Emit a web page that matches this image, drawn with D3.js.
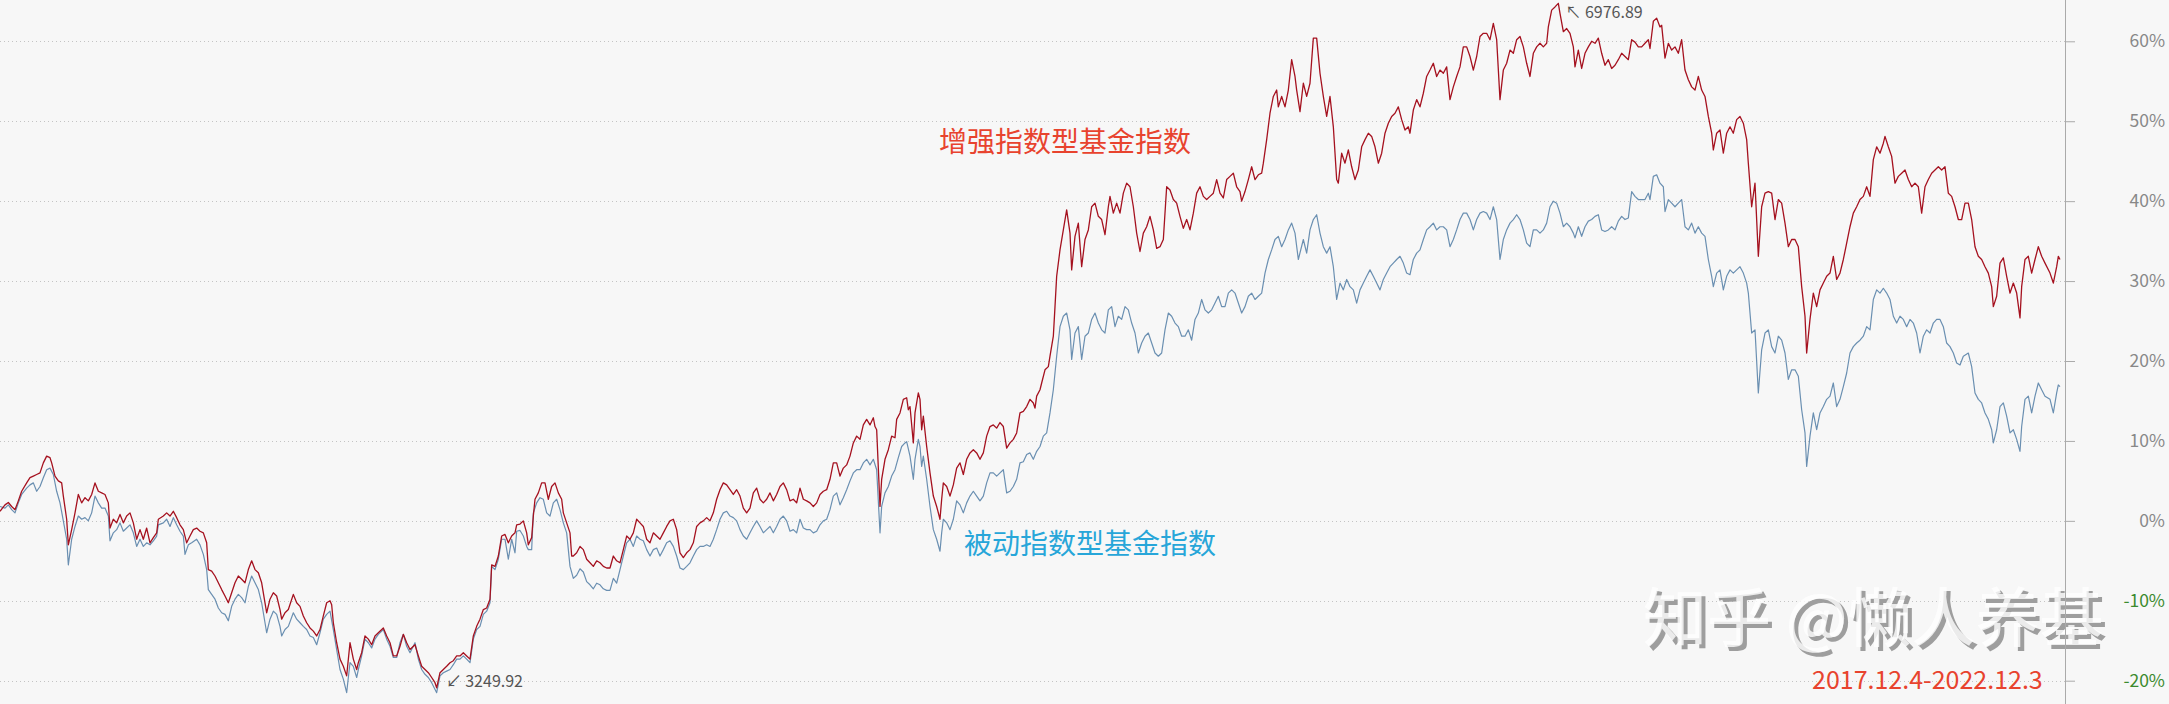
<!DOCTYPE html>
<html><head><meta charset="utf-8">
<script src="https://cdn.jsdelivr.net/npm/d3@7"></script>
<style>html,body{margin:0;padding:0;background:#f7f7f7;overflow:hidden}</style>
</head><body><svg id="chart" width="2169" height="704"></svg>
<script>
// time index (approx. trading days since 2017-12-04), cumulative return in %
const enhanced = [[0,1.2],[3,2.0],[5,2.3],[7,1.8],[9,1.4],[11,2.5],[13,3.7],[16,4.75],[18,5.4],[20,5.6],[22,5.8],[24,6.0],[26,7.25],[28,8.1],[30,7.9],[31,7.25],[33,5.6],[35,5.0],[37,4.75],[38,3.1],[40,0.2],[41,-3.0],[43,-1.1],[45,1.0],[47,3.3],[49,2.25],[51,2.9],[53,2.5],[55,3.3],[57,4.75],[59,3.7],[61,3.5],[63,3.3],[65,2.25],[66,-0.9],[68,0.2],[70,-0.25],[72,0.8],[74,-0.25],[76,0.6],[78,1.0],[80,-0.25],[82,-2.3],[84,-1.1],[86,-2.3],[88,-0.9],[90,-2.75],[92,-2.1],[94,-1.5],[95,0.2],[98,0.6],[100,1.0],[102,0.6],[104,1.2],[106,0.4],[108,-0.5],[110,-1.1],[112,-2.75],[114,-1.9],[116,-1.1],[118,-0.9],[120,-1.3],[122,-1.5],[124,-2.75],[125,-6.1],[127,-6.3],[129,-6.9],[131,-7.75],[133,-8.6],[135,-9.4],[137,-10.25],[139,-9.0],[141,-7.75],[143,-6.9],[145,-7.3],[147,-7.75],[149,-6.1],[151,-5.0],[153,-6.1],[155,-6.5],[157,-7.75],[159,-10.25],[160,-11.5],[162,-9.8],[164,-9.0],[166,-9.4],[168,-11.1],[169,-12.3],[171,-11.5],[173,-11.1],[176,-9.2],[178,-10.25],[180,-10.7],[182,-11.9],[184,-12.75],[186,-13.4],[188,-13.8],[190,-14.4],[192,-13.6],[194,-11.9],[196,-10.25],[198,-10.0],[199,-10.5],[200,-12.75],[202,-15.25],[204,-17.3],[206,-18.2],[208,-19.4],[210,-15.25],[212,-17.3],[214,-18.6],[215,-17.75],[217,-16.5],[219,-14.4],[221,-14.8],[223,-15.5],[225,-14.4],[227,-14.0],[230,-13.4],[232,-14.4],[234,-15.25],[236,-16.9],[238,-16.9],[240,-15.7],[242,-14.2],[244,-15.25],[246,-16.1],[249,-15.5],[251,-16.9],[253,-18.2],[255,-18.6],[257,-19.0],[259,-19.6],[261,-20.25],[262,-20.9],[264,-19.0],[266,-18.6],[268,-18.2],[270,-17.75],[272,-17.5],[274,-16.9],[276,-16.9],[278,-16.5],[280,-16.9],[282,-17.3],[284,-14.4],[286,-13.2],[288,-12.3],[290,-11.1],[292,-10.9],[294,-9.8],[295,-5.5],[297,-5.7],[299,-4.4],[301,-1.9],[303,-1.7],[305,-2.75],[307,-1.9],[309,-1.5],[310,-0.5],[312,-0.4],[314,0],[316,-1.5],[317,-3.0],[319,-2.1],[320,0.6],[321,2.7],[323,3.5],[325,4.75],[327,4.75],[329,2.7],[331,4.3],[333,4.75],[335,3.5],[337,2.7],[338,1.0],[340,-0.25],[342,-1.5],[343,-4.4],[344,-4.4],[346,-4.0],[348,-3.2],[350,-3.6],[352,-4.8],[354,-5.25],[356,-5.7],[358,-5.0],[360,-5.25],[362,-5.7],[364,-5.9],[366,-5.9],[368,-4.4],[370,-5.0],[372,-5.25],[374,-3.6],[376,-1.9],[378,-2.3],[380,-1.5],[382,0.2],[384,-0.25],[386,-0.7],[388,-2.3],[390,-2.75],[392,-1.5],[394,-1.9],[396,-2.3],[398,-1.5],[400,-0.7],[402,0],[404,0.2],[406,-1.1],[408,-4.0],[410,-4.6],[412,-4.0],[414,-3.6],[416,-2.75],[418,-0.7],[420,-0.25],[422,0],[424,0.4],[426,0],[428,1.0],[430,2.7],[432,3.9],[434,4.75],[436,4.5],[438,3.9],[440,3.3],[442,3.9],[444,3.1],[446,1.6],[448,1.0],[450,1.6],[452,3.5],[454,4.1],[456,2.7],[458,2.25],[460,2.7],[462,3.5],[464,2.5],[466,3.3],[468,4.3],[470,4.75],[472,3.9],[474,2.5],[476,2.7],[478,2.25],[480,4.1],[482,2.7],[484,2.5],[486,2.25],[488,1.8],[490,2.25],[492,3.3],[494,3.7],[496,3.9],[498,5.2],[500,7.25],[502,7.25],[504,5.6],[506,6.6],[508,7.0],[510,8.1],[512,9.75],[514,10.6],[516,10.2],[518,12.0],[520,12.7],[522,12.0],[524,12.9],[525,11.8],[526,11.4],[528,1.8],[529,5.2],[531,7.7],[533,8.9],[535,10.6],[537,10.4],[538,12.7],[540,13.5],[542,15.2],[544,15.4],[545,13.9],[546,14.3],[548,9.75],[549,13.5],[551,16.0],[552,15.2],[553,11.4],[554,13.1],[556,9.3],[558,6.0],[560,3.1],[562,1.8],[564,0.2],[565,2.7],[566,4.75],[568,4.3],[570,3.1],[572,4.5],[574,6.6],[576,7.25],[578,5.8],[580,7.7],[582,8.5],[584,8.9],[586,8.5],[588,7.7],[590,8.5],[592,10.6],[594,11.8],[596,12.0],[598,11.6],[600,12.3],[602,11.8],[604,9.1],[606,9.75],[608,10.2],[610,11.0],[612,13.5],[614,13.7],[616,14.3],[618,15.2],[620,14.75],[621,14.1],[622,15.6],[624,16.4],[625,17.25],[627,18.9],[629,19.3],[630,20.6],[632,23.1],[633,26.8],[634,30.6],[636,33.9],[638,36.4],[640,38.9],[642,36.0],[643,31.4],[645,35.6],[647,37.25],[649,31.8],[651,35.2],[653,36.4],[655,39.3],[657,39.75],[659,38.1],[661,37.7],[663,35.8],[665,39.3],[666,40.6],[668,38.5],[670,39.75],[672,38.5],[674,41.0],[676,42.25],[678,41.8],[680,39.3],[682,36.0],[684,33.7],[686,36.0],[688,36.8],[690,38.1],[692,36.4],[694,34.1],[696,34.3],[698,35.2],[700,41.8],[702,41.4],[704,40.2],[706,39.75],[708,38.1],[710,36.6],[712,37.7],[714,36.4],[716,38.5],[718,41.0],[720,41.8],[722,40.6],[724,40.2],[726,40.6],[728,41.0],[730,42.7],[732,41.0],[734,40.4],[736,42.7],[738,43.1],[740,43.5],[742,41.8],[744,41.2],[745,40.0],[747,41.2],[749,42.7],[751,44.3],[753,42.7],[755,43.3],[757,43.5],[758,44.75],[760,47.7],[762,51.0],[764,53.1],[766,53.9],[767,51.8],[769,53.1],[771,51.8],[773,53.9],[775,57.7],[777,55.6],[778,53.9],[780,51.2],[782,54.75],[784,53.1],[786,54.75],[788,60.4],[790,60.4],[792,56.0],[794,53.1],[796,50.6],[798,53.1],[800,49.3],[802,42.7],[803,42.25],[805,46.0],[807,44.75],[809,46.4],[811,44.3],[813,42.7],[815,43.9],[817,46.8],[819,47.7],[821,48.5],[823,48.1],[825,46.8],[827,44.75],[829,46.0],[831,48.5],[833,49.75],[835,50.6],[837,51.0],[839,51.8],[841,50.2],[843,48.9],[845,49.3],[846,48.5],[848,51.4],[850,52.7],[852,51.8],[854,53.5],[856,55.6],[858,56.4],[860,57.25],[862,55.6],[864,56.4],[866,56.0],[868,56.8],[870,52.7],[872,54.3],[874,55.6],[876,56.8],[878,59.3],[880,59.3],[882,58.1],[884,56.4],[886,58.1],[888,60.6],[890,61.0],[892,61.0],[894,60.2],[896,62.25],[898,60.2],[900,52.7],[902,56.4],[904,57.25],[906,58.9],[908,58.5],[910,60.2],[912,60.6],[914,59.3],[916,57.25],[918,55.6],[920,58.5],[922,59.3],[924,59.75],[926,59.3],[928,59.75],[929,61.8],[931,63.9],[933,64.3],[935,64.75],[936,63.5],[938,61.2],[940,61.6],[942,61.0],[944,59.3],[945,56.8],[947,58.9],[949,56.6],[951,58.5],[953,59.3],[955,60.0],[957,59.75],[959,60.4],[961,58.5],[963,57.0],[965,57.7],[967,56.6],[969,57.0],[971,57.7],[973,58.5],[975,58.1],[977,57.7],[979,60.2],[981,59.9],[983,59.3],[985,59.3],[987,59.75],[989,60.2],[990,59.1],[992,62.5],[994,62.9],[996,61.8],[997,62.0],[999,57.9],[1001,59.75],[1003,58.9],[1005,59.3],[1007,58.5],[1009,60.2],[1011,56.4],[1013,55.2],[1015,54.3],[1017,53.9],[1019,55.6],[1021,53.9],[1023,53.1],[1025,50.6],[1027,48.5],[1028,46.4],[1030,48.5],[1032,48.9],[1034,46.0],[1036,48.5],[1038,49.3],[1040,48.5],[1042,50.2],[1044,50.6],[1046,49.75],[1048,47.7],[1049,44.75],[1051,39.3],[1053,42.25],[1055,33.1],[1057,39.3],[1059,41.0],[1061,41.2],[1063,41.0],[1065,37.7],[1067,40.2],[1069,39.75],[1071,37.25],[1073,34.3],[1075,35.2],[1077,35.2],[1079,34.3],[1081,29.3],[1083,25.6],[1084,21.0],[1086,25.2],[1088,28.5],[1090,26.8],[1092,28.9],[1094,29.75],[1096,30.6],[1098,31.0],[1100,33.1],[1102,30.2],[1104,31.0],[1106,32.7],[1108,34.75],[1110,36.8],[1112,38.5],[1114,39.3],[1116,40.2],[1118,40.6],[1120,41.8],[1122,40.6],[1124,45.2],[1126,46.8],[1128,46.0],[1130,47.25],[1131,48.1],[1133,46.8],[1135,45.6],[1137,42.25],[1139,43.1],[1141,43.5],[1143,43.9],[1145,42.7],[1147,41.8],[1149,42.25],[1151,41.8],[1153,38.5],[1155,41.8],[1157,42.7],[1159,43.5],[1161,43.9],[1163,44.3],[1165,43.9],[1167,44.3],[1169,41.0],[1171,40.6],[1173,39.3],[1175,37.7],[1177,37.7],[1179,39.75],[1181,39.75],[1183,37.7],[1185,34.3],[1187,33.1],[1189,32.7],[1191,31.8],[1193,31.0],[1195,29.3],[1196,26.8],[1198,28.1],[1200,32.25],[1202,32.9],[1204,30.6],[1206,28.5],[1208,29.75],[1210,28.5],[1212,25.4],[1213,29.3],[1215,32.7],[1217,33.1],[1219,31.0],[1221,32.7],[1223,34.3],[1225,33.1],[1227,32.25],[1230,31.0],[1232,29.75],[1234,31.8],[1235,33.1],[1236,32.7]];

const passive = [[0,1.8],[3,1.6],[5,2.0],[7,1.4],[9,1.0],[11,2.25],[13,3.3],[16,4.1],[18,4.5],[20,4.75],[22,3.7],[24,4.3],[26,5.4],[28,6.4],[30,6.6],[32,5.8],[34,3.7],[36,2.25],[38,0],[40,-2.3],[41,-5.5],[43,-2.3],[45,-0.7],[47,0.6],[49,0.2],[51,0.4],[53,0],[55,1.0],[57,3.1],[59,2.25],[61,1.6],[63,1.6],[65,0.6],[66,-2.5],[68,-1.5],[70,-1.1],[72,-0.25],[74,-1.3],[76,-0.9],[78,-0.5],[80,-1.5],[82,-3.2],[84,-2.3],[86,-3.2],[88,-2.75],[90,-3.0],[92,-2.5],[94,-1.9],[95,-0.5],[98,-0.25],[100,0.2],[102,-0.7],[104,0.4],[106,-0.5],[108,-1.3],[110,-1.9],[111,-4.2],[113,-3.0],[115,-2.75],[118,-2.3],[120,-3.0],[122,-4.2],[124,-6.1],[125,-8.6],[127,-9.2],[129,-9.8],[131,-10.9],[133,-11.5],[135,-11.7],[137,-12.5],[139,-10.7],[141,-9.8],[143,-9.2],[145,-9.6],[147,-10.25],[149,-8.2],[151,-6.9],[153,-7.75],[155,-8.6],[157,-10.25],[159,-12.75],[160,-14.0],[162,-12.3],[164,-11.3],[166,-11.7],[168,-13.2],[169,-14.4],[171,-13.6],[173,-13.2],[176,-11.5],[178,-12.3],[180,-12.75],[182,-13.2],[184,-13.6],[186,-14.4],[188,-14.6],[190,-15.5],[192,-14.0],[194,-12.3],[196,-11.7],[198,-11.3],[200,-13.6],[202,-16.1],[204,-18.6],[206,-19.8],[208,-21.5],[210,-17.75],[212,-18.2],[214,-19.6],[215,-18.6],[217,-16.9],[219,-14.8],[221,-15.25],[223,-15.9],[225,-14.8],[227,-14.2],[230,-13.6],[232,-14.8],[234,-15.7],[236,-17.1],[238,-17.1],[240,-15.25],[242,-14.2],[244,-15.7],[246,-16.5],[249,-15.25],[251,-17.3],[253,-18.6],[255,-19.2],[257,-19.6],[259,-20.25],[262,-21.5],[264,-19.4],[266,-19.0],[268,-18.8],[270,-18.6],[272,-18.0],[274,-17.3],[276,-17.3],[278,-16.9],[280,-17.3],[282,-17.75],[284,-14.8],[286,-13.6],[288,-13.2],[290,-11.7],[292,-11.3],[294,-10.25],[295,-5.7],[297,-6.1],[299,-4.8],[301,-2.3],[303,-2.3],[305,-4.8],[307,-2.3],[309,-4.0],[310,-1.3],[312,-1.2],[314,-1.9],[316,-3.2],[317,-3.6],[319,-3.6],[320,1.0],[322,2.25],[324,2.9],[326,2.7],[328,1.0],[330,0.6],[332,2.25],[334,2.7],[336,1.4],[338,-0.25],[340,-1.5],[342,-5.7],[344,-7.2],[346,-6.8],[348,-6.0],[350,-6.4],[352,-7.6],[354,-8.0],[356,-8.5],[358,-7.8],[360,-8.0],[362,-8.5],[364,-8.7],[366,-8.7],[368,-7.2],[370,-7.8],[372,-6.1],[374,-4.4],[376,-2.75],[378,-2.3],[380,-3.2],[382,-1.9],[384,-2.3],[386,-2.5],[388,-3.6],[390,-4.4],[392,-3.6],[394,-3.4],[396,-4.4],[398,-3.6],[400,-2.75],[402,-2.5],[404,-3.2],[406,-4.4],[408,-5.9],[410,-6.1],[412,-5.7],[414,-5.25],[416,-4.4],[418,-3.6],[420,-3.2],[422,-3.2],[424,-3.0],[426,-3.2],[428,-2.3],[430,-1.1],[432,0.2],[434,1.0],[436,1.2],[438,0.6],[440,0.4],[442,0],[444,-1.1],[446,-1.9],[448,-2.3],[450,-1.5],[452,-0.7],[454,0],[456,-0.7],[458,-1.5],[460,-1.1],[462,-0.7],[464,-1.5],[466,-0.7],[468,0.2],[470,0.6],[472,0],[474,-1.3],[476,-1.1],[478,-1.5],[480,0.2],[482,-0.9],[484,-1.1],[486,-1.1],[488,-1.5],[490,-1.3],[492,-0.5],[494,0],[496,0.2],[498,1.4],[500,3.1],[502,3.5],[504,2.0],[506,2.9],[508,3.9],[510,5.0],[512,6.0],[514,6.4],[516,6.4],[518,7.25],[520,7.7],[522,7.0],[524,7.7],[526,6.4],[528,-1.5],[529,1.8],[531,3.5],[533,4.3],[535,5.6],[537,6.4],[539,7.9],[541,9.3],[543,9.75],[544,9.9],[546,8.1],[548,5.2],[549,7.7],[551,10.2],[552,9.3],[553,6.8],[554,8.1],[556,5.2],[558,1.8],[560,-1.1],[562,-2.3],[564,-3.8],[565,-1.5],[566,0.2],[568,-0.25],[570,-1.1],[572,0.2],[574,2.5],[576,2.0],[578,1.0],[580,2.25],[582,3.1],[584,3.7],[586,3.1],[588,2.5],[590,3.1],[592,4.75],[594,6.0],[596,6.0],[598,5.6],[600,6.0],[602,6.4],[604,3.5],[606,3.7],[608,4.3],[610,5.2],[612,7.25],[614,7.4],[616,8.3],[618,8.5],[620,7.7],[622,8.7],[624,9.3],[626,10.6],[628,11.0],[630,13.5],[632,16.4],[634,20.6],[636,24.3],[638,25.6],[640,26.0],[642,23.9],[643,20.2],[645,23.5],[647,24.3],[649,20.2],[651,23.1],[653,23.5],[655,25.2],[657,26.0],[659,24.75],[661,23.9],[663,23.5],[665,26.4],[667,26.8],[669,24.3],[671,25.6],[673,25.2],[675,26.8],[677,26.4],[679,24.75],[681,23.5],[683,21.0],[685,22.25],[687,23.1],[689,23.5],[691,22.25],[693,21.0],[695,20.6],[697,21.0],[699,23.9],[701,26.0],[703,25.6],[705,24.75],[707,24.3],[709,23.1],[711,23.1],[713,23.9],[715,22.6],[717,25.2],[719,26.0],[721,27.7],[723,26.4],[725,26.0],[727,26.4],[729,27.25],[731,28.1],[733,26.8],[735,26.8],[737,28.5],[739,28.9],[741,28.5],[743,27.25],[745,26.0],[747,26.8],[749,28.1],[751,28.5],[753,27.7],[755,28.1],[757,28.5],[759,31.0],[761,32.7],[763,33.9],[765,35.2],[767,35.6],[769,34.3],[771,35.2],[773,36.4],[775,37.25],[777,36.0],[779,32.7],[782,35.2],[784,33.5],[786,36.4],[788,37.7],[790,38.3],[792,36.0],[794,34.3],[796,33.5],[798,34.3],[800,31.8],[802,27.7],[804,29.75],[806,28.9],[808,30.2],[810,29.3],[812,28.9],[814,27.25],[816,28.9],[818,29.75],[820,30.6],[822,31.4],[824,30.6],[826,29.75],[828,28.9],[830,30.2],[832,31.0],[834,31.8],[836,32.25],[838,32.7],[840,33.1],[842,32.25],[844,31.0],[846,30.8],[848,32.7],[850,33.5],[852,33.9],[854,35.2],[856,36.4],[858,36.8],[860,37.25],[862,36.4],[864,36.8],[866,36.8],[868,36.4],[870,34.3],[872,35.2],[874,36.4],[876,37.7],[878,38.5],[880,38.5],[882,37.7],[884,36.4],[886,37.7],[888,38.5],[890,38.7],[892,38.5],[894,37.7],[896,39.3],[898,37.7],[900,32.7],[902,35.2],[904,36.4],[906,37.25],[908,37.7],[910,38.3],[912,37.7],[914,36.4],[916,34.75],[918,34.3],[920,36.4],[922,36.4],[924,36.0],[926,36.4],[928,37.25],[930,39.3],[932,40.0],[934,39.75],[936,38.5],[938,36.8],[940,37.25],[942,36.8],[944,36.0],[945,35.4],[947,36.8],[949,35.6],[951,36.8],[953,37.5],[955,37.7],[957,38.1],[959,38.3],[961,36.4],[963,36.2],[965,36.4],[967,36.8],[969,36.4],[971,37.5],[973,38.1],[975,37.7],[977,37.9],[979,41.2],[981,40.6],[983,40.2],[985,40.2],[987,40.2],[989,41.0],[990,40.2],[992,43.1],[994,43.3],[996,42.25],[998,41.8],[999,38.7],[1001,40.2],[1003,39.75],[1005,39.3],[1007,39.75],[1009,40.2],[1011,36.8],[1013,36.4],[1015,37.25],[1017,36.0],[1019,36.8],[1021,36.0],[1023,35.6],[1025,32.7],[1027,30.6],[1028,29.3],[1030,31.0],[1032,31.4],[1034,28.9],[1036,30.6],[1038,31.4],[1040,31.0],[1042,31.4],[1044,31.8],[1046,31.0],[1048,29.75],[1049,28.5],[1051,23.5],[1053,23.9],[1055,16.0],[1057,21.4],[1059,23.5],[1061,23.9],[1063,21.8],[1065,21.0],[1067,23.1],[1069,22.6],[1071,21.0],[1073,17.7],[1075,18.9],[1077,18.9],[1079,18.1],[1081,13.9],[1083,11.0],[1084,6.8],[1086,10.6],[1088,13.5],[1090,11.4],[1092,13.5],[1094,14.3],[1096,15.2],[1098,15.6],[1100,17.25],[1102,14.3],[1104,15.2],[1106,16.8],[1108,18.5],[1110,21.0],[1112,21.8],[1114,22.25],[1116,22.6],[1118,23.1],[1120,24.3],[1122,23.9],[1124,27.7],[1126,28.9],[1128,28.5],[1130,29.1],[1132,28.5],[1134,27.7],[1136,25.6],[1138,24.75],[1140,25.6],[1142,25.2],[1144,24.3],[1146,25.2],[1148,24.75],[1150,23.5],[1152,21.0],[1154,23.1],[1156,23.9],[1158,23.5],[1160,24.75],[1162,25.2],[1164,25.2],[1166,24.3],[1168,22.25],[1170,21.8],[1172,21.0],[1174,19.75],[1176,19.5],[1178,20.6],[1181,21.0],[1183,19.3],[1185,16.0],[1187,15.2],[1189,14.75],[1191,13.5],[1193,12.7],[1195,11.4],[1196,9.75],[1198,11.4],[1200,14.3],[1202,14.75],[1204,13.1],[1206,11.0],[1208,11.4],[1210,10.2],[1212,8.7],[1213,11.8],[1215,15.2],[1217,15.6],[1219,13.5],[1221,15.6],[1223,17.25],[1225,16.4],[1227,15.6],[1230,15.2],[1232,13.5],[1234,16.0],[1235,17.0],[1236,16.8]];

const yTicks = [60, 50, 40, 30, 20, 10, 0, -10, -20];
const seriesNames = ["增强指数型基金指数", "被动指数型基金指数"];
const extremeLabels = { max: "6976.89", min: "3249.92" };
const periodLabel = "2017.12.4-2022.12.3";
const watermarkText = "知乎 @懒人养基";

const W = 2169, H = 704;
const svg = d3.select("#chart");
svg.append("rect").attr("width", W).attr("height", H).attr("fill", "#f7f7f7");

const x = d3.scaleLinear().domain([0, 1236]).range([0, 2060]);
const y = d3.scaleLinear().domain([-20, 60]).range([680.7, 41.3]);
const axisX = 2065;
const font = "'Noto Sans CJK SC','Noto Sans',sans-serif";

// grid
svg.append("g").selectAll("line").data(yTicks).join("line")
  .attr("x1", 0).attr("x2", axisX).attr("y1", d => Math.round(y(d)) + 0.5).attr("y2", d => Math.round(y(d)) + 0.5)
  .attr("stroke", "#c4c4c4").attr("stroke-width", 1).attr("stroke-dasharray", "1,3");

// watermark (embossed) — drawn beneath the axis labels
svg.append("text").attr("x", 1647).attr("y", 617).attr("dominant-baseline", "central")
  .attr("font-family", font).attr("font-size", 64).attr("font-weight", 500)
  .attr("fill", "#9e9e9e").text(watermarkText);
svg.append("text").attr("x", 1643).attr("y", 613).attr("dominant-baseline", "central")
  .attr("font-family", font).attr("font-size", 64).attr("font-weight", 500)
  .attr("fill", "#ffffff").attr("opacity", 0.8).text(watermarkText);

// right axis
const axis = d3.axisRight(y).tickValues(yTicks).tickSize(10).tickFormat(d => d + "%");
const ag = svg.append("g").attr("transform", `translate(${axisX},0)`).call(axis);
ag.select(".domain").remove();
ag.selectAll(".tick line").attr("stroke", "#aaa");
ag.selectAll(".tick text")
  .attr("x", 100).attr("text-anchor", "end")
  .attr("font-family", font).attr("font-size", 17.5)
  .attr("fill", d => d < 0 ? "#3b8a2e" : "#888");
svg.append("line").attr("x1", axisX + 0.5).attr("x2", axisX + 0.5).attr("y1", 0).attr("y2", H)
  .attr("stroke", "#aaa").attr("stroke-width", 1);

// lines
const line = d3.line().x(d => x(d[0])).y(d => y(d[1]));
svg.append("path").datum(passive).attr("d", line).attr("fill", "none")
  .attr("stroke", "#6a8fb1").attr("stroke-width", 1.2).attr("stroke-linejoin", "round");
svg.append("path").datum(enhanced).attr("d", line).attr("fill", "none")
  .attr("stroke", "#a5111f").attr("stroke-width", 1.3).attr("stroke-linejoin", "round");

// extremes
const maxPt = enhanced.reduce((a, b) => b[1] > a[1] ? b : a);
const minPt = enhanced.reduce((a, b) => b[1] < a[1] ? b : a);
svg.append("text").attr("x", x(maxPt[0]) + 7).attr("y", y(maxPt[1]) + 8)
  .attr("dominant-baseline", "central").attr("font-family", font).attr("font-size", 16)
  .attr("fill", "#555").text("↖ " + extremeLabels.max);
svg.append("text").attr("x", x(minPt[0]) + 9).attr("y", y(minPt[1]) - 8)
  .attr("dominant-baseline", "central").attr("font-family", font).attr("font-size", 16)
  .attr("fill", "#555").text("↙ " + extremeLabels.min);

// series labels
svg.append("text").attr("x", 939).attr("y", 140).attr("dominant-baseline", "central")
  .attr("font-family", font).attr("font-size", 28).attr("fill", "#e8432e").text(seriesNames[0]);
svg.append("text").attr("x", 964).attr("y", 542).attr("dominant-baseline", "central")
  .attr("font-family", font).attr("font-size", 28).attr("fill", "#27a6d9").text(seriesNames[1]);

// period
svg.append("text").attr("x", 1812).attr("y", 678).attr("dominant-baseline", "central")
  .attr("font-family", font).attr("font-size", 25).attr("fill", "#e8432e").text(periodLabel);
</script></body></html>
